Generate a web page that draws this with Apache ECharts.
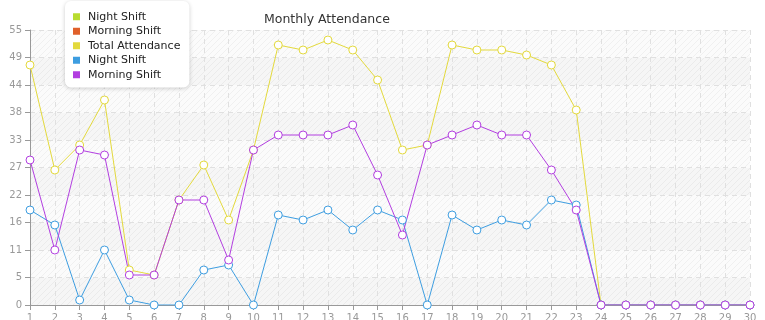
<!DOCTYPE html>
<html>
<head>
<meta charset="utf-8">
<script src="https://cdn.jsdelivr.net/npm/echarts@6/dist/echarts.min.js"></script>
<style>html,body{margin:0;padding:0;background:#fff}#c{width:765px;height:320px}</style>
</head>
<body>
<div id="c"></div>
<script>
const days = ['1','2','3','4','5','6','7','8','9','10','11','12','13','14','15','16','17','18','19','20','21','22','23','24','25','26','27','28','29','30'];
const totalAttendance = [48,27,32,41,7,6,21,28,17,31,52,51,53,51,45,31,32,52,51,51,50,48,39,0,0,0,0,0,0,0];
const nightShift = [19,16,1,11,1,0,0,7,8,0,18,17,19,15,19,17,0,18,15,17,16,21,20,0,0,0,0,0,0,0];
const morningShift = [29,11,31,30,6,6,21,21,9,31,34,34,34,36,26,14,32,34,36,34,34,27,19,0,0,0,0,0,0,0];
const yTicks = [0,5,11,16,22,27,33,38,44,49,55];
const names = ['Night Shift','Morning Shift','Total Attendance','Night Shift ','Morning Shift '];
const colors = ['#b8dc30','#e0602a','#e3d93c','#3d9de0','#b23ee0'];

function hatch(bg) {
  const c = document.createElement('canvas');
  c.width = 6; c.height = 6;
  const g = c.getContext('2d');
  g.fillStyle = bg; g.fillRect(0,0,6,6);
  g.strokeStyle = 'rgba(0,0,0,0.045)';
  g.lineWidth = 1;
  g.beginPath();
  g.moveTo(0,6); g.lineTo(6,0);
  g.moveTo(-1,1); g.lineTo(1,-1);
  g.moveTo(5,7); g.lineTo(7,5);
  g.stroke();
  return {image: c, repeat: 'repeat'};
}

const chart = echarts.init(document.getElementById('c'), null, {renderer:'canvas'});
const font = 'DejaVu Sans';
function mk(i, data) {
  return {name:names[i], type:'line', data:data,
    symbol:'circle', symbolSize:8,
    lineStyle:{width:1, color:colors[i]},
    itemStyle:{color:'#fff', borderColor:colors[i], borderWidth:1},
    emphasis:{disabled:true}};
}
chart.setOption({
  animation:false,
  title:{text:'Monthly Attendance', left:259, top:8, textStyle:{fontFamily:font, fontSize:12.5, fontWeight:'normal', color:'#333'}},
  legend:{
    orient:'vertical', left:65, top:1,
    backgroundColor:'#fff', borderRadius:6, padding:[9,9,6,8],
    shadowColor:'rgba(0,0,0,0.2)', shadowBlur:4, shadowOffsetY:1,
    itemWidth:7, itemHeight:7, itemGap:1, icon:'rect',
    textStyle:{fontFamily:font, fontSize:11, color:'#222', lineHeight:13.5, padding:[0,0,0,3]},
    data: names.map((n, i) => ({name:n, itemStyle:{color:colors[i], borderWidth:0}}))
  },
  grid:{left:30, right:15, top:30, bottom:15, containLabel:false, outerBoundsMode:'none'},
  xAxis:{
    type:'category', data:days, boundaryGap:false,
    axisLine:{lineStyle:{color:'#999'}},
    axisTick:{alignWithLabel:true, length:5, lineStyle:{color:'#999'}},
    axisLabel:{fontFamily:font, fontSize:10, color:'#999', margin:8},
    splitLine:{show:true, lineStyle:{type:[5,4], color:'#e0e0e0'}}
  },
  yAxis:{
    type:'value', min:0, max:55, interval:5.5,
    axisLine:{show:true, lineStyle:{color:'#999'}},
    axisTick:{show:true, length:5, lineStyle:{color:'#999'}},
    axisLabel:{fontFamily:font, fontSize:10, color:'#999', margin:8,
      formatter: v => String(yTicks[Math.round(v/5.5)])},
    splitLine:{show:true, lineStyle:{type:[5,4], color:'#e0e0e0'}},
    splitArea:{show:true, areaStyle:{color:[hatch('#f6f6f6'), hatch('#fbfbfb')]}}
  },
  series:[
    mk(0, []),
    mk(1, []),
    mk(2, totalAttendance),
    mk(3, nightShift),
    mk(4, morningShift)
  ]
});
</script>
</body>
</html>
